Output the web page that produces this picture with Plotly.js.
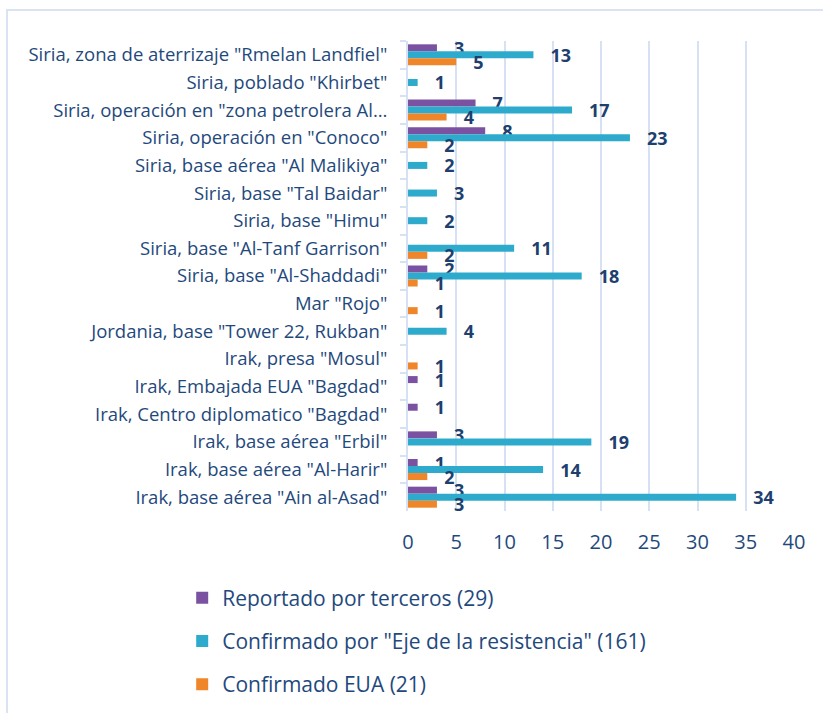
<!DOCTYPE html>
<html>
<head>
<meta charset="utf-8">
<script src="https://cdn.plot.ly/plotly-3.0.1.min.js"></script>
<style>
  html, body { margin: 0; padding: 0; background: #ffffff; }
  #frame { position: absolute; left: 6px; top: 9px; width: 900px; height: 800px;
           border-top: 2px solid #d9e3f3; border-left: 2px solid #d9e3f3; }
  #chart { position: absolute; left: 0; top: 0; width: 823px; height: 713px; }
</style>
</head>
<body>
<div id="frame"></div>
<div id="chart"></div>
<script>
const categories = [
  'Siria, zona de aterrizaje "Rmelan Landfiel"',
  'Siria, poblado "Khirbet"',
  'Siria, operación en "zona petrolera Al…',
  'Siria, operación en "Conoco"',
  'Siria, base aérea "Al Malikiya"',
  'Siria, base "Tal Baidar"',
  'Siria, base "Himu"',
  'Siria, base "Al-Tanf Garrison"',
  'Siria, base "Al-Shaddadi"',
  'Mar "Rojo"',
  'Jordania, base "Tower 22, Rukban"',
  'Irak, presa "Mosul"',
  'Irak, Embajada EUA "Bagdad"',
  'Irak, Centro diplomatico "Bagdad"',
  'Irak, base aérea "Erbil"',
  'Irak, base aérea "Al-Harir"',
  'Irak, base aérea "Ain al-Asad"'
];
const reportadoTerceros = [3, null, 7, 8, null, null, null, null, 2, null, null, null, 1, 1, 3, 1, 3];
const confirmadoEje     = [13, 1, 17, 23, 2, 3, 2, 11, 18, null, 4, null, null, null, 19, 14, 34];
const confirmadoEUA     = [5, null, 4, 2, null, null, null, 2, 1, 1, null, 1, null, null, null, 2, 3];
const seriesNames = [
  'Reportado por terceros (29)',
  'Confirmado por "Eje de la resistencia" (161)',
  'Confirmado EUA (21)'
];
const xTicks = [0, 5, 10, 15, 20, 25, 30, 35, 40];

const colors = ['#7a52a1', '#2eabcc', '#f0862a'];
const seriesData = [reportadoTerceros, confirmadoEje, confirmadoEUA];
const pad = '\u00a0\u00a0\u00a0';

const traces = seriesData.map((vals, i) => ({
  type: 'bar',
  orientation: 'h',
  name: seriesNames[i],
  legendgroup: 'g' + i,
  y: categories,
  x: vals,
  marker: { color: colors[i], line: { width: 0 } },
  text: vals.map(v => v == null ? '' : pad + v),
  textposition: 'outside',
  constraintext: 'none',
  cliponaxis: false,
  textfont: { family: '"Open Sans", sans-serif', size: 18, color: '#203f6e', weight: 'bold' },
  hoverinfo: 'x+y'
}));

const layout = {
  width: 823,
  height: 713,
  margin: { l: 408, r: 29, t: 41, b: 202 },
  paper_bgcolor: 'rgba(0,0,0,0)',
  plot_bgcolor: 'rgba(0,0,0,0)',
  barmode: 'group',
  bargap: 0.24,
  bargroupgap: 0,
  font: { family: '"Open Sans", sans-serif', color: '#1f497d' },
  xaxis: {
    range: [0, 40],
    tickvals: xTicks,
    ticktext: xTicks.map(String),
    showgrid: true,
    gridcolor: '#d6e2f4',
    gridwidth: 2,
    zeroline: false,
    showline: false,
    ticks: '',
    tickfont: { size: 20, color: '#1f497d' },
    ticklabelstandoff: 17
  },
  yaxis: {
    type: 'category',
    autorange: 'reversed',
    showgrid: false,
    zeroline: false,
    showline: true,
    linecolor: '#d6e2f4',
    linewidth: 2,
    ticks: 'outside',
    tickson: 'boundaries',
    ticklen: 6,
    tickcolor: '#d6e2f4',
    tickwidth: 2,
    tickfont: { size: 18.5, color: '#1f497d' },
    ticklabelstandoff: 15
  },
  showlegend: true,
  legend: {
    orientation: 'v',
    x: -0.585,
    xanchor: 'left',
    yref: 'container',
    y: 0.19,
    yanchor: 'top',
    font: { size: 21, color: '#1f497d' },
    tracegroupgap: 13,
    bgcolor: 'rgba(0,0,0,0)'
  }
};

Plotly.newPlot('chart', traces, layout, { displayModeBar: false, staticPlot: true });
</script>
</body>
</html>
